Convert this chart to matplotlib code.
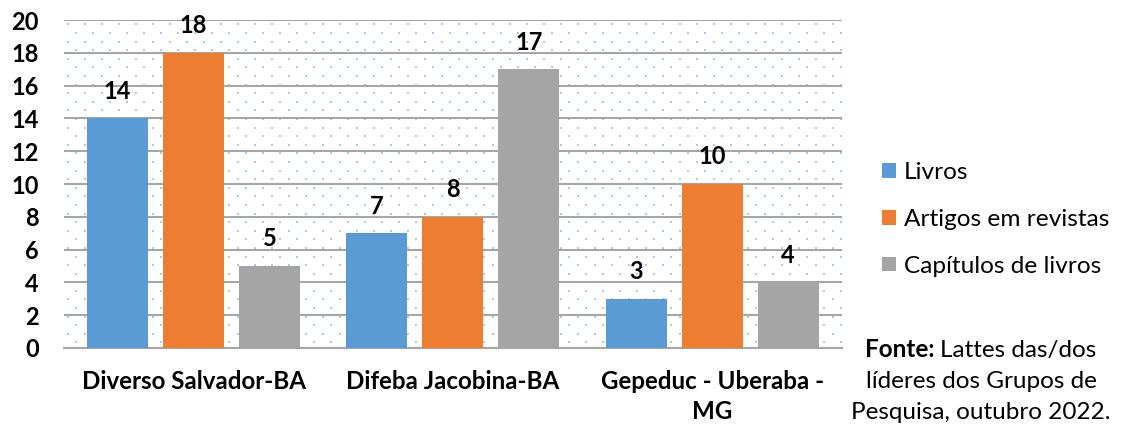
import matplotlib.pyplot as plt
import numpy as np

plt.rcParams['font.family'] = ['Lato', 'DejaVu Sans']

grupos = ['Diverso Salvador-BA', 'Difeba Jacobina-BA', 'Gepeduc - Uberaba -\nMG']
series = ['Livros', 'Artigos em revistas', 'Capítulos de livros']
livros = [14, 7, 3]
artigos = [18, 8, 10]
capitulos = [5, 17, 4]
cores = ['#5B9BD5', '#ED7D31', '#A5A5A5']
fonte = ['Lattes das/dos', 'líderes dos Grupos de', 'Pesquisa, outubro 2022.']

fig = plt.figure(figsize=(11.21, 4.28), dpi=100)
ax = fig.add_axes([0.057, 0.187, 0.694, 0.766])

# fundo pontilhado (padrao do Excel): pontos a cada 17 px, linhas a cada ~8.6 px alternadas
W, H = 778.0, 328.0
dx, dy = 17.0 / W, 8.6 / H
pts = []
for r in range(int(1 / dy) + 1):
    y0 = 1 - (r + 0.5) * dy
    x_ini = 0.005 + (dx / 2 if r % 2 else 0)
    for xx in np.arange(x_ini, 1, dx):
        pts.append((xx, y0))
pts = np.array(pts)
ax.scatter(pts[:, 0], pts[:, 1], s=2.5, marker='s', color='#A9CBEA', linewidths=0,
           transform=ax.transAxes, zorder=0.5)

x = np.arange(len(grupos))
w = 0.235
passo = 0.293
for i, (vals, nome) in enumerate(zip([livros, artigos, capitulos], series)):
    barras = ax.bar(x + (i - 1) * passo, vals, w, color=cores[i], label=nome, zorder=3)
    for b, v in zip(barras, vals):
        ax.text(b.get_x() + b.get_width() / 2, v + 0.95, str(v), ha='center', va='bottom',
                fontsize=17, fontweight='bold', zorder=4)

ax.set_xlim(-0.5, 2.5)
ax.set_ylim(0, 20)
ax.set_yticks(range(0, 21, 2))
ax.yaxis.grid(True, color='#A6A6A6', linewidth=1.5, zorder=1)
ax.set_axisbelow(True)
for s in ['top', 'left', 'right']:
    ax.spines[s].set_visible(False)
ax.spines['bottom'].set_color('#A6A6A6')
ax.spines['bottom'].set_linewidth(1.5)
ax.tick_params(axis='both', length=0)
ax.tick_params(axis='y', pad=18, labelsize=17)
ax.tick_params(axis='x', pad=16, labelsize=17.4)
ax.set_xticks(x)
ax.set_xticklabels(grupos, fontweight='bold', linespacing=1.35)
for lb in ax.get_yticklabels():
    lb.set_fontweight('bold')

leg = fig.legend(loc='center left', bbox_to_anchor=(0.787, 0.487), frameon=False,
                 fontsize=17.6, handlelength=0.55, handleheight=0.55, handletextpad=0.35,
                 labelspacing=1.05, borderpad=0, borderaxespad=0)

# nota da fonte
t1 = fig.text(865 / 1121, 1 - 357 / 428, 'Fonte:', fontweight='bold', fontsize=17.5,
              ha='left', va='baseline')
ax.annotate(fonte[0], xy=(1, 0), xycoords=t1, xytext=(4, 0), textcoords='offset points',
            fontsize=17.5, ha='left', va='bottom', annotation_clip=False)
fig.text(981 / 1121, 1 - 388 / 428, fonte[1], fontsize=17.5, ha='center', va='baseline')
fig.text(981 / 1121, 1 - 419 / 428, fonte[2], fontsize=17.5, ha='center', va='baseline')

fig.savefig('out.png', dpi=100)
